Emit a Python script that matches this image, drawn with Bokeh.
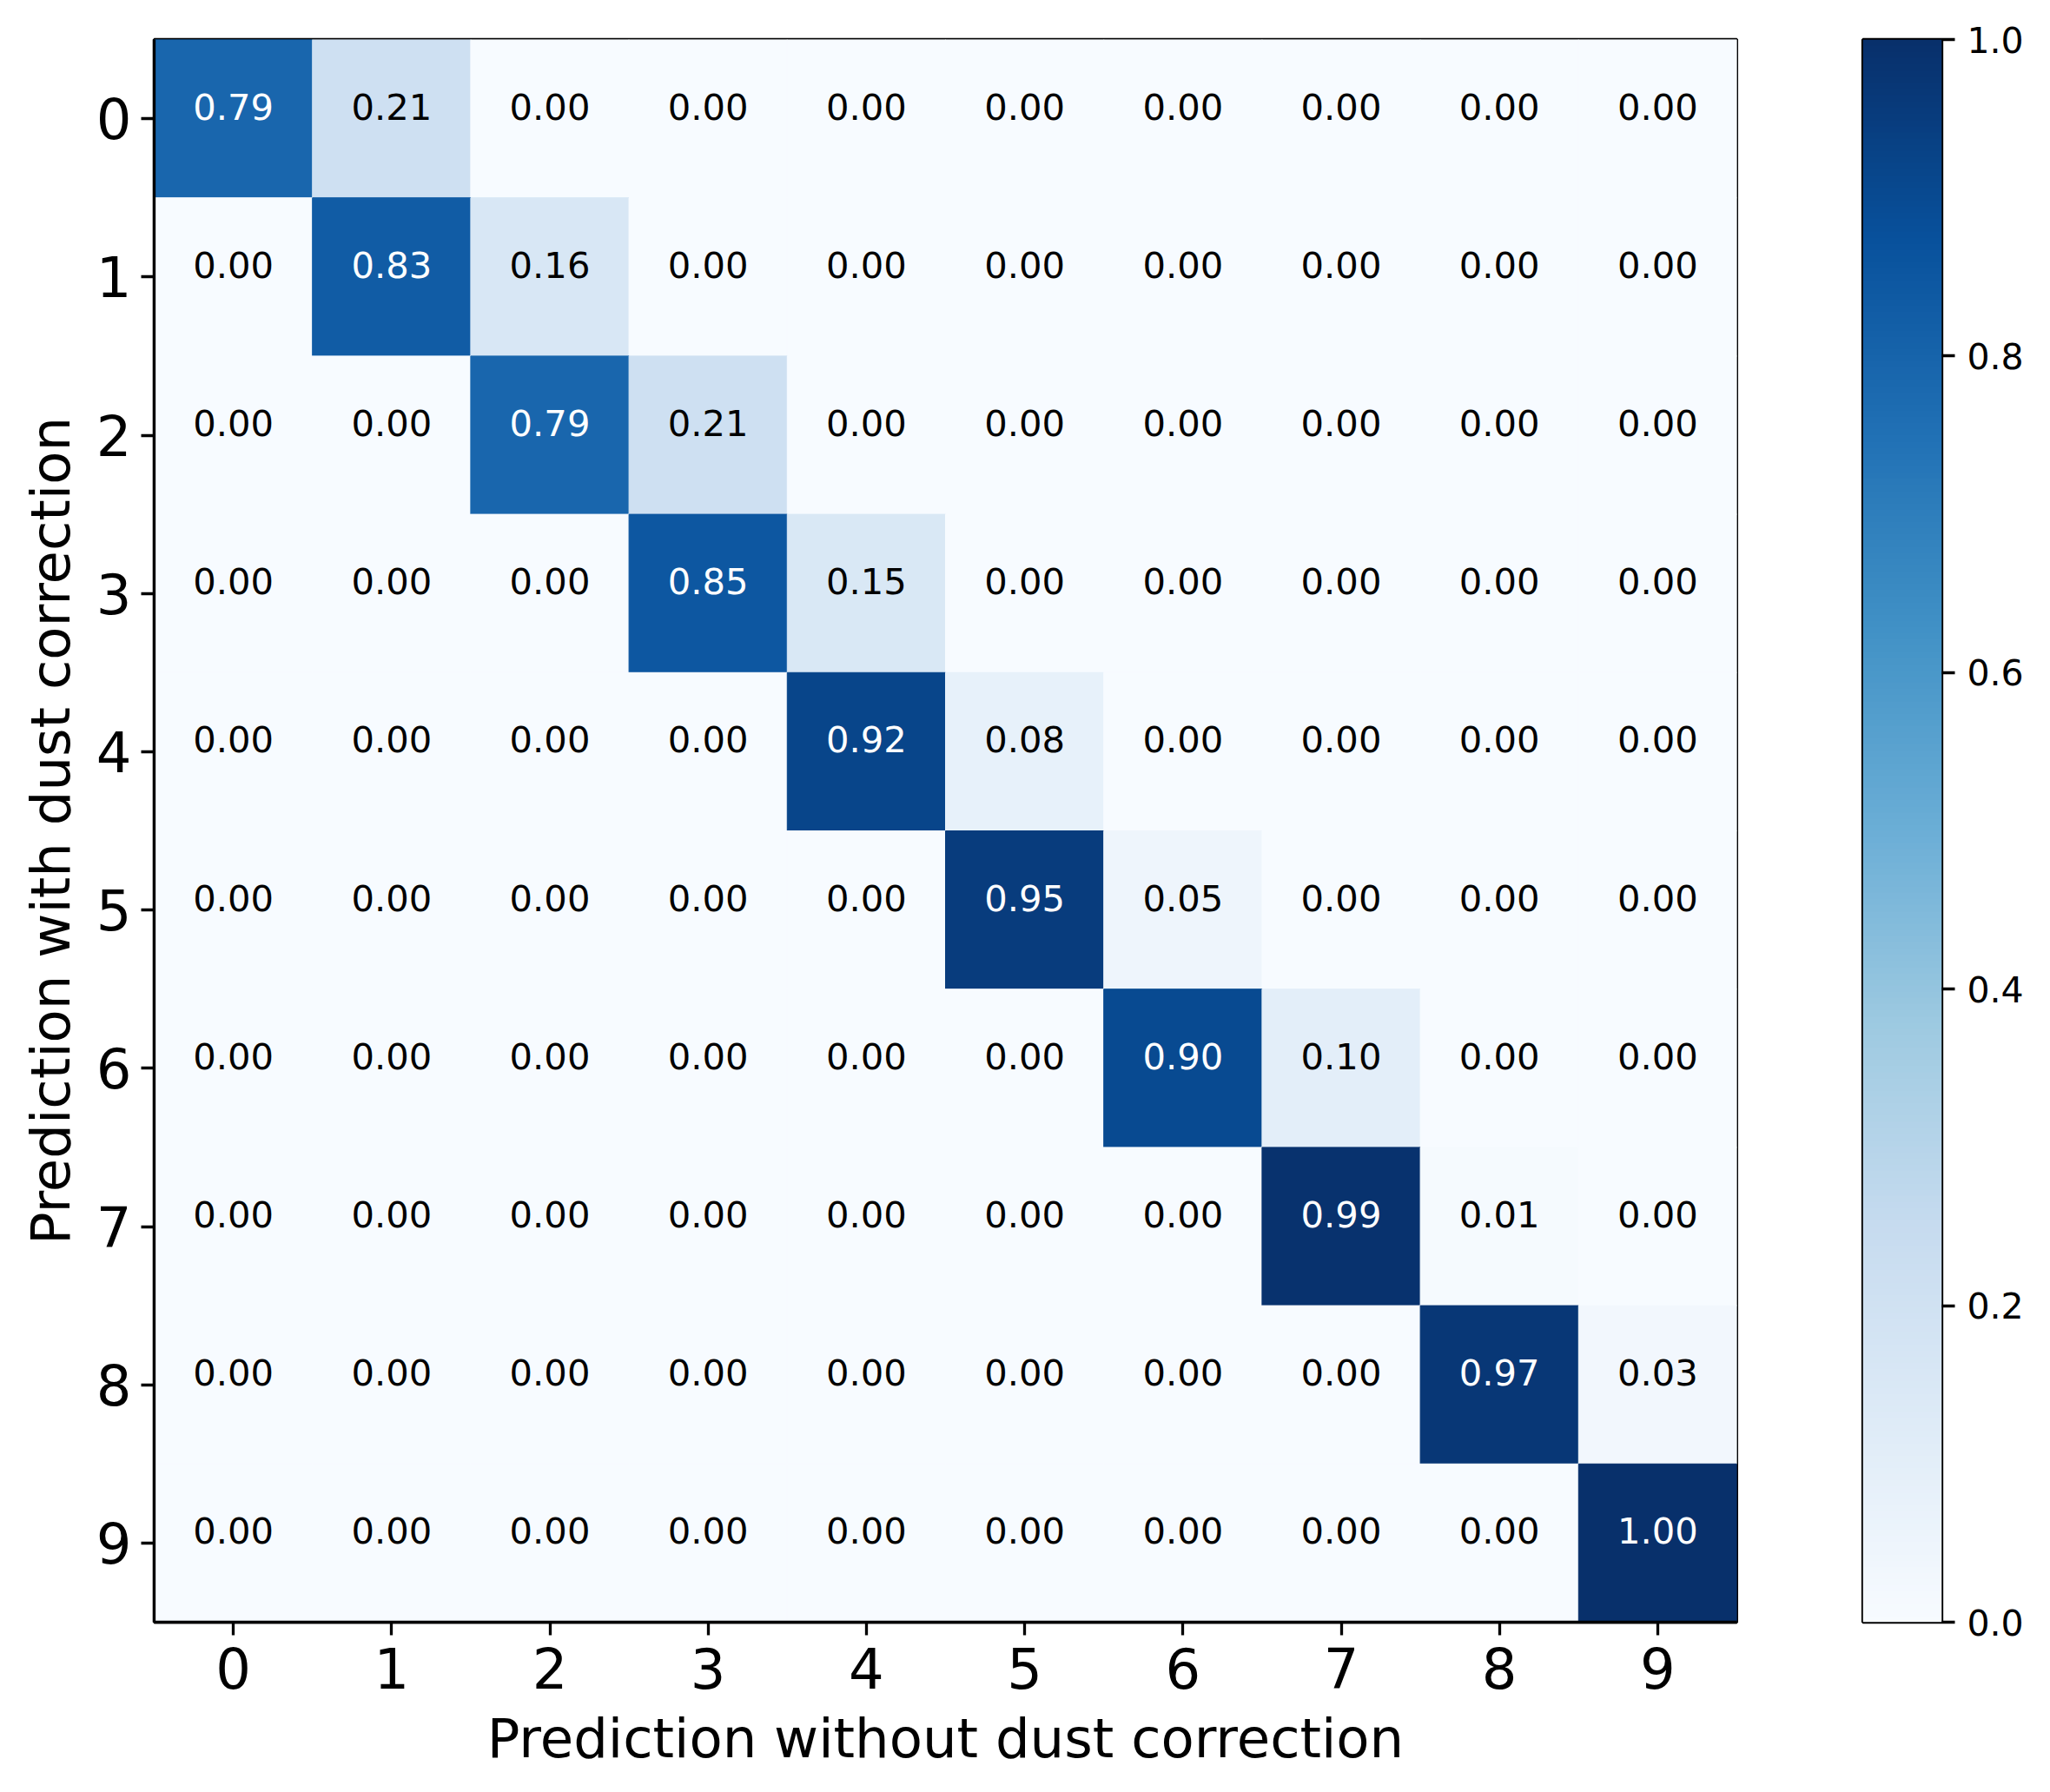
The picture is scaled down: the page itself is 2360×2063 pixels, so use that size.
import numpy as np
from bokeh.plotting import figure
from bokeh.models import (ColumnDataSource, LinearColorMapper, FixedTicker,
                          PrintfTickFormatter, Range1d, LinearAxis)
from bokeh.layouts import row
from bokeh.palettes import Blues9
from bokeh.embed import file_html
from bokeh.resources import INLINE
from bokeh.core.properties import value

# ---- data ----
classes = [0, 1, 2, 3, 4, 5, 6, 7, 8, 9]
tick_labels = ["0", "1", "2", "3", "4", "5", "6", "7", "8", "9"]
row_0 = [0.79, 0.21, 0.00, 0.00, 0.00, 0.00, 0.00, 0.00, 0.00, 0.00]
row_1 = [0.00, 0.83, 0.16, 0.00, 0.00, 0.00, 0.00, 0.00, 0.00, 0.00]
row_2 = [0.00, 0.00, 0.79, 0.21, 0.00, 0.00, 0.00, 0.00, 0.00, 0.00]
row_3 = [0.00, 0.00, 0.00, 0.85, 0.15, 0.00, 0.00, 0.00, 0.00, 0.00]
row_4 = [0.00, 0.00, 0.00, 0.00, 0.92, 0.08, 0.00, 0.00, 0.00, 0.00]
row_5 = [0.00, 0.00, 0.00, 0.00, 0.00, 0.95, 0.05, 0.00, 0.00, 0.00]
row_6 = [0.00, 0.00, 0.00, 0.00, 0.00, 0.00, 0.90, 0.10, 0.00, 0.00]
row_7 = [0.00, 0.00, 0.00, 0.00, 0.00, 0.00, 0.00, 0.99, 0.01, 0.00]
row_8 = [0.00, 0.00, 0.00, 0.00, 0.00, 0.00, 0.00, 0.00, 0.97, 0.03]
row_9 = [0.00, 0.00, 0.00, 0.00, 0.00, 0.00, 0.00, 0.00, 0.00, 1.00]
matrix = [row_0, row_1, row_2, row_3, row_4, row_5, row_6, row_7, row_8, row_9]
cbar_ticks = [0.0, 0.2, 0.4, 0.6, 0.8, 1.0]

# ---- colour map (matplotlib "Blues": linear interpolation of the 9 brewer colours) ----
anchors = list(reversed(Blues9))
rgb = np.array([[int(c[i:i + 2], 16) for i in (1, 3, 5)] for c in anchors], dtype=float)
pos = np.linspace(0, 1, len(anchors))
grid = np.linspace(0, 1, 256)
pal = []
for g in grid:
    r = np.interp(g, pos, rgb[:, 0]); gg = np.interp(g, pos, rgb[:, 1]); b = np.interp(g, pos, rgb[:, 2])
    pal.append("#%02x%02x%02x" % (int(round(r)), int(round(gg)), int(round(b))))
mapper = LinearColorMapper(palette=pal, low=0.0, high=1.0)

xs, ys, vals, labels, tcolors = [], [], [], [], []
for i, r_ in enumerate(matrix):
    for j, v in enumerate(r_):
        xs.append(classes[j]); ys.append(classes[i]); vals.append(v)
        labels.append("%.2f" % v)
        tcolors.append("white" if v > 0.5 else "black")
src = ColumnDataSource(dict(x=xs, y=ys, v=vals, label=labels, tc=tcolors))

FONT = "DejaVu Sans"
TOP, BOTTOM, H = 45, 196, 2063

p = figure(width=2001, height=H, x_range=Range1d(-0.5, 9.5), y_range=Range1d(9.5, -0.5),
           output_backend="svg", toolbar_location=None,
           min_border_left=177, min_border_right=2, min_border_top=TOP, min_border_bottom=BOTTOM)
p.rect(x="x", y="y", width=1, height=1, source=src,
       fill_color={"field": "v", "transform": mapper},
       line_color={"field": "v", "transform": mapper}, line_width=1)
p.text(x="x", y="y", text="label", source=src, text_align="center",
       text_baseline="middle", y_offset=-14, text_color="tc",
       text_font=value(FONT), text_font_size="41.7px")

p.grid.visible = False
p.outline_line_color = "black"
p.outline_line_width = 3.3
p.outline_line_alpha = 1.0
p.background_fill_color = "white"
for ax in (p.xaxis[0], p.yaxis[0]):
    ax.ticker = FixedTicker(ticks=classes)
    ax.major_label_overrides = {c: t for c, t in zip(classes, tick_labels)}
    ax.major_label_text_font = FONT
    ax.major_label_text_font_size = "64px"
    ax.major_label_text_color = "black"
    ax.axis_label_text_font = FONT
    ax.axis_label_text_font_size = "62.5px"
    ax.axis_label_text_font_style = "normal"
    ax.axis_label_text_color = "black"
    ax.major_tick_in = 0
    ax.major_tick_out = 15
    ax.major_tick_line_width = 3.3
    ax.minor_tick_line_color = None
    ax.axis_line_width = 3.3
p.xaxis.axis_label = "Prediction without dust correction"
p.yaxis.axis_label = "Prediction with dust correction"
p.xaxis.major_label_standoff = 14
p.yaxis.major_label_standoff = 11
p.xaxis.axis_label_standoff = 18
p.yaxis.axis_label_standoff = 13
p.yaxis.major_label_orientation = "horizontal"

# ---- colour bar as its own small figure ----
cb = figure(width=359, height=H, x_range=Range1d(0, 1), y_range=Range1d(0, 1),
            output_backend="svg", toolbar_location=None,
            min_border_left=143, min_border_right=125, min_border_top=TOP, min_border_bottom=BOTTOM)
cb.image(image=[np.array(grid).reshape(256, 1)], x=0, y=0, dw=1, dh=1, color_mapper=mapper)
cb.xaxis.visible = False
cb.yaxis.visible = False
cb.grid.visible = False
cb.outline_line_color = "black"
cb.outline_line_width = 3.3
cb.outline_line_alpha = 1.0
rax = LinearAxis(ticker=FixedTicker(ticks=cbar_ticks), formatter=PrintfTickFormatter(format="%.1f"))
rax.major_label_text_font = FONT
rax.major_label_text_font_size = "41px"
rax.major_label_text_color = "black"
rax.major_tick_in = 0
rax.major_tick_out = 15
rax.major_tick_line_width = 3.3
rax.major_tick_line_color = "black"
rax.minor_tick_line_color = None
rax.axis_line_color = None
rax.major_label_standoff = 14
cb.add_layout(rax, "right")

layout = row(p, cb)
open("out.html", "w").write(file_html(layout, INLINE))
